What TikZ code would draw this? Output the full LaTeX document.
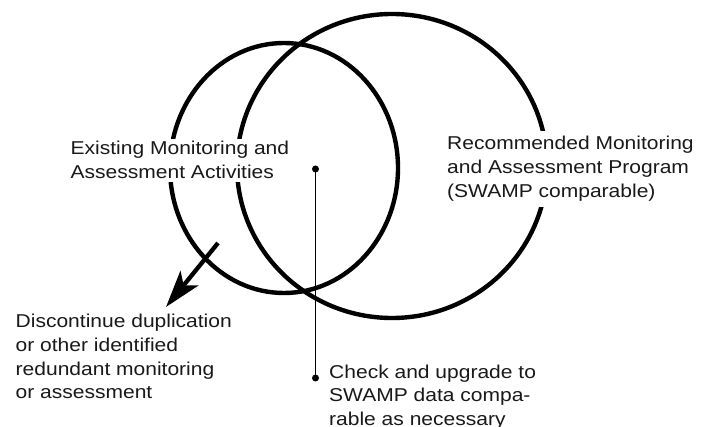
\documentclass[tikz,border=0pt]{standalone}
\usepackage{fontspec}
\setmainfont{Liberation Sans}[FakeStretch=1.13]
\usetikzlibrary{arrows.meta}
\tikzset{
  ring/.style={line width=4.4pt},
  lbl/.style={anchor=base west, align=left, fill=white, inner xsep=2pt, inner ysep=3pt,
    font=\fontsize{18.6}{23.6}\selectfont, text=black!90},
  pointer/.style={line width=1.3pt},
  dot/.style={circle, fill=black, inner sep=0pt, minimum size=7pt},
  bigarrow/.style={line width=4.3pt, -{Stealth[length=37pt,width=23pt,inset=9pt]}}
}
\begin{document}
\begin{tikzpicture}[x=1pt,y=-1pt]
\useasboundingbox (0,0) rectangle (701,427);

% the two overlapping programme areas
\draw[ring] (284,168) ellipse [x radius=114, y radius=125];
\draw[ring] (392,166) ellipse [x radius=155, y radius=152];

% labels (white boxes break the rings behind them); anchored on the last line
\node[lbl] (exist) at (68.5,178.6) {Existing Monitoring and\\Assessment Activities};
\node[lbl, inner ysep=6pt] (recom) at (445,197.2) {Recommended Monitoring\\and Assessment Program\\(SWAMP comparable)};
\node[lbl] (disc) at (13.5,398.8) {Discontinue duplication\\or other identified\\redundant monitoring\\or assessment};
\node[lbl] (check) at (327,425.2) {Check and upgrade to\\SWAMP data compa-\\rable as necessary};

% pointer from the overlap down to its action
\node[dot] (top) at (315.5,169) {};
\node[dot] (bot) at (315.5,378) {};
\draw[pointer] (top.center) -- (bot.center);

% arrow leaving the existing activities
\coordinate (from) at (218,243);
\coordinate (to) at (166,307);
\draw[bigarrow] (from) -- (to);
\end{tikzpicture}
\end{document}
